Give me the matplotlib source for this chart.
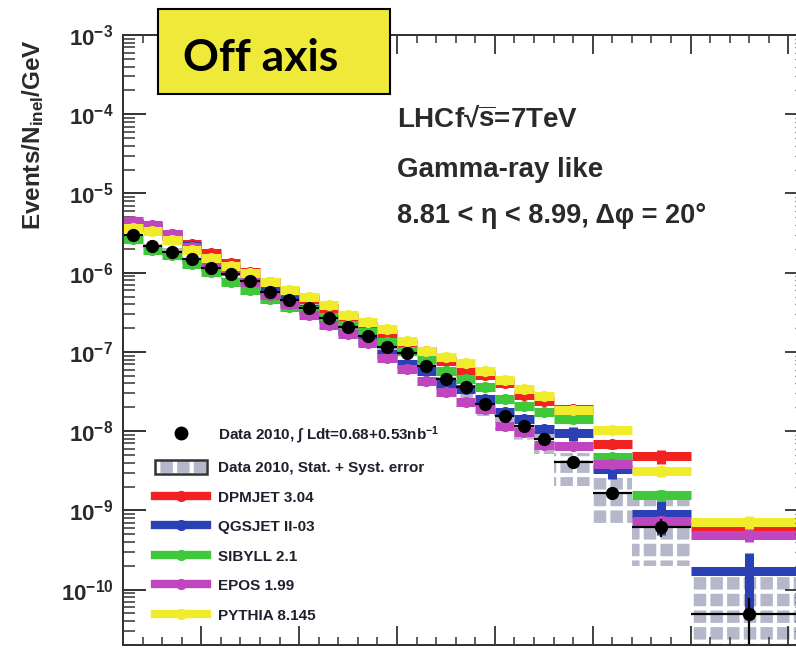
import numpy as np
import matplotlib
matplotlib.use("Agg")
import matplotlib.pyplot as plt
from matplotlib.ticker import (MultipleLocator, LogLocator, FixedLocator,
                               NullFormatter, FuncFormatter)
from matplotlib.lines import Line2D
from matplotlib.patches import Patch, Rectangle
from matplotlib.legend_handler import HandlerTuple

plt.rcParams.update({
    "font.family": ["Liberation Sans", "DejaVu Sans"],
    "font.weight": "bold",
    "mathtext.fontset": "custom",
    "mathtext.rm": "Liberation Sans:bold",
    "mathtext.bf": "Liberation Sans:bold",
    "mathtext.it": "Liberation Sans:bold:italic",
    "mathtext.sf": "Liberation Sans:bold",
    "mathtext.default": "rm",
    "hatch.linewidth": 3.0,
})

# Energy binning [GeV]
bin_edges = [100, 200, 300, 400, 500, 600, 700, 800, 900, 1000, 1100, 1200, 1300,
             1400, 1500, 1600, 1700, 1800, 1900, 2000, 2100, 2200, 2300, 2500,
             2700, 3000, 3600]

# Measured spectrum (Events/N_inel/GeV) and its relative uncertainties
data = [3.03e-6, 2.20e-6, 1.85e-6, 1.47e-6, 1.16e-6, 9.49e-7, 7.75e-7, 5.63e-7,
        4.47e-7, 3.54e-7, 2.65e-7, 2.04e-7, 1.57e-7, 1.14e-7, 9.60e-8, 6.59e-8,
        4.52e-8, 3.58e-8, 2.19e-8, 1.54e-8, 1.16e-8, 7.93e-9, 4.07e-9, 1.66e-9,
        6.18e-10, 4.96e-11]
data_stat = [0.01, 0.01, 0.01, 0.01, 0.01, 0.01, 0.01, 0.02, 0.02, 0.02, 0.02, 0.02,
             0.03, 0.03, 0.03, 0.04, 0.04, 0.05, 0.06, 0.07, 0.08, 0.09, 0.10, 0.15,
             0.25, 0.60]
syst_lo = [0.22, 0.15, 0.12, 0.12, 0.12, 0.12, 0.13, 0.13, 0.14, 0.15, 0.16, 0.17,
           0.18, 0.20, 0.22, 0.24, 0.26, 0.28, 0.30, 0.32, 0.34, 0.36, 0.50, 0.60,
           0.68, 0.80]
syst_hi = [0.15, 0.12, 0.10, 0.10, 0.10, 0.10, 0.11, 0.11, 0.12, 0.13, 0.14, 0.15,
           0.16, 0.17, 0.18, 0.19, 0.20, 0.21, 0.22, 0.23, 0.24, 0.26, 0.30, 0.55,
           1.20, 1.90]

# Model predictions
dpmjet = [4.17e-6, 3.71e-6, 2.94e-6, 2.33e-6, 1.75e-6, 1.31e-6, 1.01e-6, 7.53e-7,
          5.80e-7, 4.60e-7, 3.54e-7, 2.65e-7, 2.10e-7, 1.67e-7, 1.25e-7, 1.02e-7,
          7.61e-8, 5.70e-8, 5.07e-8, 4.02e-8, 2.84e-8, 2.39e-8, 1.89e-8, 6.86e-9,
          4.84e-9, 6.18e-10]
qgsjet = [4.29e-6, 3.93e-6, 3.12e-6, 2.20e-6, 1.55e-6, 1.10e-6, 7.97e-7, 5.80e-7,
          4.47e-7, 3.44e-7, 2.57e-7, 1.82e-7, 1.36e-7, 9.33e-8, 6.98e-8, 5.70e-8,
          3.91e-8, 3.38e-8, 2.53e-8, 1.73e-8, 1.42e-8, 1.06e-8, 9.44e-9, 3.32e-9,
          9.01e-10, 1.72e-10]
sibyll = [2.70e-6, 1.96e-6, 1.65e-6, 1.27e-6, 1.01e-6, 7.53e-7, 5.97e-7, 4.60e-7,
          3.64e-7, 3.34e-7, 2.73e-7, 2.16e-7, 1.77e-7, 1.32e-7, 1.02e-7, 8.07e-8,
          5.70e-8, 4.52e-8, 3.58e-8, 2.53e-8, 2.06e-8, 1.73e-8, 1.42e-8, 4.71e-9,
          1.56e-9, np.nan]
epos = [4.54e-6, 4.05e-6, 3.12e-6, 2.08e-6, 1.38e-6, 1.04e-6, 7.53e-7, 5.16e-7,
        3.98e-7, 2.89e-7, 2.16e-7, 1.67e-7, 1.28e-7, 8.31e-8, 6.04e-8, 4.26e-8,
        3.10e-8, 2.32e-8, 1.89e-8, 1.16e-8, 9.72e-9, 6.66e-9, 6.47e-9, 3.84e-9,
        7.35e-10, 4.90e-10]
pythia = [3.71e-6, 3.40e-6, 2.62e-6, 1.96e-6, 1.55e-6, 1.23e-6, 9.77e-7, 7.53e-7,
          5.97e-7, 4.87e-7, 3.86e-7, 2.89e-7, 2.36e-7, 1.93e-7, 1.36e-7, 1.02e-7,
          8.55e-8, 7.18e-8, 5.70e-8, 4.39e-8, 3.38e-8, 2.76e-8, 1.84e-8, 1.03e-8,
          3.14e-9, 7.14e-10]

# Relative statistical errors of the model histograms
dpmjet_err = [0.02, 0.02, 0.02, 0.02, 0.02, 0.02, 0.02, 0.02, 0.03, 0.03, 0.03, 0.03,
              0.03, 0.04, 0.04, 0.04, 0.05, 0.05, 0.06, 0.06, 0.07, 0.07, 0.08, 0.12,
              0.20, 0.18]
qgsjet_err = [0.02, 0.02, 0.02, 0.02, 0.02, 0.02, 0.02, 0.03, 0.03, 0.03, 0.04, 0.04,
              0.05, 0.05, 0.06, 0.07, 0.08, 0.09, 0.10, 0.11, 0.12, 0.14, 0.20, 0.25,
              0.45, 0.70]
sibyll_err = [0.02, 0.02, 0.02, 0.02, 0.02, 0.02, 0.02, 0.02, 0.03, 0.03, 0.03, 0.03,
              0.03, 0.04, 0.04, 0.04, 0.05, 0.05, 0.06, 0.06, 0.07, 0.07, 0.08, 0.12,
              0.15, 0.0]
epos_err = [0.02, 0.02, 0.02, 0.02, 0.02, 0.02, 0.02, 0.02, 0.03, 0.03, 0.03, 0.03,
            0.03, 0.04, 0.04, 0.04, 0.05, 0.05, 0.06, 0.06, 0.07, 0.07, 0.08, 0.12,
            0.15, 0.18]
pythia_err = [0.02, 0.02, 0.02, 0.02, 0.02, 0.02, 0.02, 0.02, 0.03, 0.03, 0.03, 0.03,
              0.03, 0.04, 0.04, 0.04, 0.05, 0.05, 0.06, 0.06, 0.07, 0.07, 0.08, 0.10,
              0.15, 0.18]

model_names = ["DPMJET 3.04", "QGSJET II-03", "SIBYLL 2.1", "EPOS 1.99", "PYTHIA 8.145"]
model_colors = ["#f22222", "#2b40b4", "#3fc83a", "#c046c0", "#f0ec2c"]
box_color = "#b6b8ca"

edges = np.array(bin_edges, dtype=float)
centers = 0.5 * (edges[1:] + edges[:-1])
half = 0.5 * (edges[1:] - edges[:-1])
y = np.array(data)

fig = plt.figure(figsize=(7.96, 6.5), dpi=100)
# the frame runs slightly past the right edge of the canvas
ax = fig.add_axes([123 / 796, 5 / 650, 685 / 796, 610 / 650])

# Systematic + statistical error boxes of the data
lo = y * (1 - np.array(syst_lo))
hi = y * (1 + np.array(syst_hi))
ax.bar(centers, hi - lo, bottom=lo, width=2 * half, color=box_color,
       edgecolor="white", linewidth=0, hatch="+", zorder=1)

# Model histograms
models = [dpmjet, qgsjet, sibyll, epos, pythia]
errs = [dpmjet_err, qgsjet_err, sibyll_err, epos_err, pythia_err]
for k, (vals, err, col) in enumerate(zip(models, errs, model_colors)):
    v = np.array(vals, dtype=float)
    e = np.array(err) * v
    ok = np.isfinite(v)
    ax.errorbar(centers[ok], v[ok], xerr=half[ok], yerr=e[ok], fmt="o", ms=7,
                color=col, elinewidth=6.5, capsize=0, zorder=2 + k)

# Data points
ax.errorbar(centers, y, xerr=half, yerr=y * np.array(data_stat), fmt="o", ms=8.5,
            color="black", elinewidth=1.6, capsize=0, zorder=10)

ax.set_xlim(100, 3600)
ax.set_yscale("log")
ax.set_ylim(2e-11, 1e-3)

ax.xaxis.set_major_locator(MultipleLocator(500))
ax.xaxis.set_minor_locator(MultipleLocator(100))
ax.tick_params(axis="x", which="both", direction="in", top=True, bottom=True,
               labelbottom=False)
ax.tick_params(axis="x", which="major", length=13.5, width=1.3, color="#333333")
ax.tick_params(axis="x", which="minor", length=6, width=1.1, color="#333333")

decades = [1e-10, 1e-9, 1e-8, 1e-7, 1e-6, 1e-5, 1e-4, 1e-3]
ax.yaxis.set_major_locator(FixedLocator(decades))
ax.yaxis.set_minor_locator(LogLocator(base=10, subs=np.arange(2, 10), numticks=20))
ax.yaxis.set_minor_formatter(NullFormatter())
ax.yaxis.set_major_formatter(FuncFormatter(lambda v, p: r"$10^{%d}$" % round(np.log10(v))))
ax.tick_params(axis="y", which="major", direction="in", length=16.5, width=1.4,
               labelsize=16, pad=7, labelcolor="#2a2a2a", color="#333333")
ax.tick_params(axis="y", which="minor", direction="in", length=8.6, width=1.1,
               color="#333333")

axr = ax.twinx()
axr.set_yscale("log")
axr.set_ylim(ax.get_ylim())
axr.yaxis.set_major_locator(FixedLocator(decades))
axr.yaxis.set_minor_locator(LogLocator(base=10, subs=np.arange(2, 10), numticks=20))
axr.yaxis.set_minor_formatter(NullFormatter())
axr.tick_params(axis="y", which="major", direction="in", length=16.5, width=1.3,
                labelright=False, color="#333333")
axr.tick_params(axis="y", which="minor", direction="in", length=9.5, width=1.0,
                color="#333333")

for a in (ax, axr):
    for s in a.spines.values():
        s.set_linewidth(1.4)
        s.set_color("#333333")

fig.text(33 / 796, 1 - 135 / 650, r"Events/N$_{inel}$/GeV", rotation=90,
         ha="center", va="center", fontsize=17.5, color="#2a2a2a")

# Run description
fig.text(397 / 796, 1 - 119 / 650, r"LHCf√$\overline{s}$=7TeV", fontsize=20,
         ha="left", va="center", color="#2a2a2a")
fig.text(397 / 796, 1 - 170 / 650, "Gamma-ray like", fontsize=20,
         ha="left", va="center", color="#2a2a2a")
fig.text(397 / 796, 1 - 216 / 650, "8.81 < η < 8.99, Δφ = 20°", fontsize=19.5,
         ha="left", va="center", color="#2a2a2a")

# Region tag
tag = Rectangle((158 / 796, 1 - 94 / 650), 232 / 796, 85 / 650,
                transform=fig.transFigure, facecolor="#efea3a",
                edgecolor="black", linewidth=1.5, zorder=5)
fig.add_artist(tag)
fig.text(261 / 796, 1 - 58 / 650, "Off axis", fontsize=32, family="Lato",
         weight="bold", ha="center", va="center", color="black", zorder=6)

# Legend
handles = [
    Line2D([], [], marker="o", ls="none", color="black", ms=9),
    (Patch(facecolor=box_color, edgecolor="white", hatch="+", linewidth=0),
     Patch(facecolor="none", edgecolor="#333333", linewidth=1.8)),
]
for col in model_colors:
    handles.append(Line2D([], [], color=col, lw=6, marker="o", ms=7))
labels = [r"Data 2010, $\int$ Ldt=0.68+0.53nb$^{-1}$",
          "Data 2010, Stat. + Syst. error"] + model_names
ax.legend(handles, labels, loc="upper left",
          bbox_to_anchor=(155 / 796, 1 - 424 / 650), bbox_transform=fig.transFigure,
          frameon=False, fontsize=11, handlelength=3.4, handleheight=1.05,
          handletextpad=0.7, labelspacing=0.93, borderpad=0, borderaxespad=0,
          labelcolor="#1f1f2e",
          handler_map={tuple: HandlerTuple(ndivide=1)})

fig.savefig("out.png", dpi=100)
